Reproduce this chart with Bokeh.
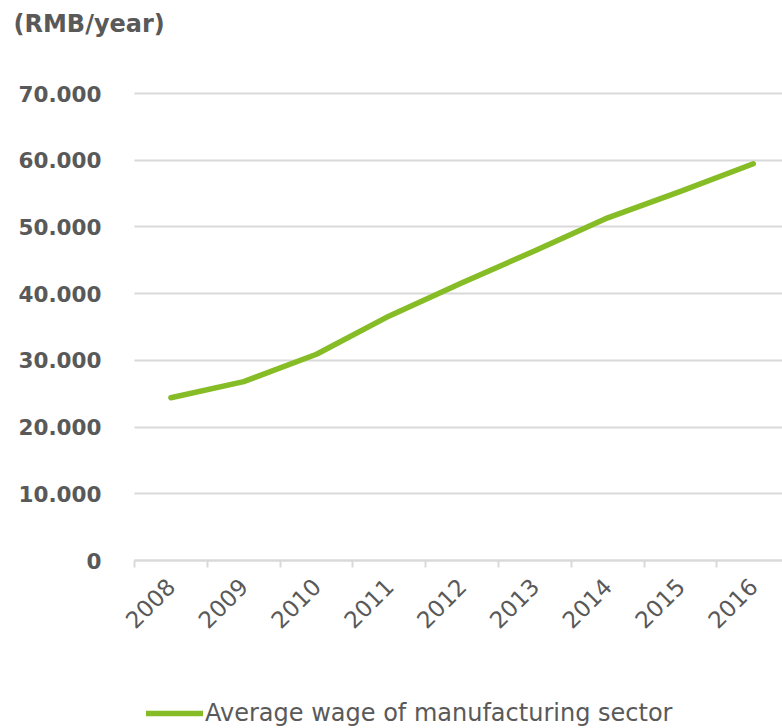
import math
from bokeh.plotting import figure
from bokeh.models import Range1d, FixedTicker, Legend, LegendItem, Label
from bokeh.embed import file_html
from bokeh.resources import INLINE

years = ["2008", "2009", "2010", "2011", "2012", "2013", "2014", "2015", "2016"]
wages = [24404, 26810, 30916, 36665, 41650, 46431, 51369, 55324, 59470]
y_ticks = [0, 10000, 20000, 30000, 40000, 50000, 60000, 70000]
y_tick_labels = ["0", "10.000", "20.000", "30.000", "40.000", "50.000", "60.000", "70.000"]
series_name = "Average wage of manufacturing sector"
unit_label = "(RMB/year)"

TEXT = "#595959"
GRID = "#d9d9d9"
GREEN = "#86bc25"
FONT = "DejaVu Sans"

W, H = 782, 728
# plot-area geometry (pixels) used to place the axes inside a full-canvas frame
AX_LEFT, AX_BOTTOM, AX_TOP = 134, 560, 93
CAT_W = 72.8

xs = list(range(len(years)))
y_max = y_ticks[-1]
k = (AX_BOTTOM - AX_TOP) / y_max  # px per unit
x_start = -0.5 - AX_LEFT / CAT_W
x_end = -0.5 + (W - AX_LEFT) / CAT_W
y_start = -(H - AX_BOTTOM) / k
y_end = y_max + AX_TOP / k

p = figure(width=W, height=H, output_backend="svg", toolbar_location=None,
           x_range=Range1d(x_start, x_end), y_range=Range1d(y_start, y_end),
           min_border=0)
p.outline_line_color = None
p.background_fill_color = "white"
p.border_fill_color = "white"

# x axis (drawn at y = 0 inside the frame)
p.xaxis.fixed_location = 0
p.xaxis.bounds = (-0.5, x_end)
p.xgrid.visible = False
p.xaxis.ticker = FixedTicker(ticks=xs, minor_ticks=[i - 0.5 for i in range(len(years) + 1)])
p.xaxis.major_label_overrides = {i: y for i, y in zip(xs, years)}
p.xaxis.major_label_orientation = math.pi / 4
p.xaxis.major_tick_in = 0
p.xaxis.major_tick_out = 0
p.xaxis.minor_tick_in = 0
p.xaxis.minor_tick_out = 7
p.xaxis.minor_tick_line_color = GRID
p.xaxis.minor_tick_line_width = 2
p.xaxis.axis_line_color = GRID
p.xaxis.axis_line_width = 2
p.xaxis.major_label_text_font = FONT
p.xaxis.major_label_text_font_size = "23px"
p.xaxis.major_label_text_color = TEXT
p.xaxis.major_label_standoff = 15

# y axis (drawn at the left boundary of the first category)
p.yaxis.fixed_location = -0.5
p.yaxis.ticker = FixedTicker(ticks=y_ticks)
p.yaxis.major_label_overrides = {t: l for t, l in zip(y_ticks, y_tick_labels)}
p.yaxis.axis_line_color = None
p.yaxis.major_tick_line_color = None
p.yaxis.minor_tick_line_color = None
p.yaxis.major_tick_in = 0
p.yaxis.major_tick_out = 0
p.yaxis.major_label_standoff = 33
p.yaxis.major_label_text_font = FONT
p.yaxis.major_label_text_font_size = "21.5px"
p.yaxis.major_label_text_font_style = "bold"
p.yaxis.major_label_text_color = TEXT
p.ygrid.grid_line_color = GRID
p.ygrid.grid_line_width = 2
p.ygrid.cross_bounds = (-0.5, x_end)

r = p.line(xs, wages, line_color=GREEN, line_width=5.5, line_cap="round", line_join="round")

title = Label(x=13, y=H - 9, x_units="screen", y_units="screen", text=unit_label,
              text_font=FONT, text_font_size="24px", text_font_style="bold",
              text_color=TEXT, text_baseline="top", text_align="left")
p.add_layout(title)

legend = Legend(items=[LegendItem(label=series_name, renderers=[r])],
                location=(146, 1), orientation="horizontal",
                border_line_color=None, background_fill_alpha=0,
                glyph_width=57, glyph_height=24, label_standoff=2,
                padding=0, margin=0, spacing=0,
                label_text_font=FONT, label_text_font_size="24px",
                label_text_color=TEXT)
p.add_layout(legend, "center")

open("out.html", "w").write(file_html(p, INLINE))
